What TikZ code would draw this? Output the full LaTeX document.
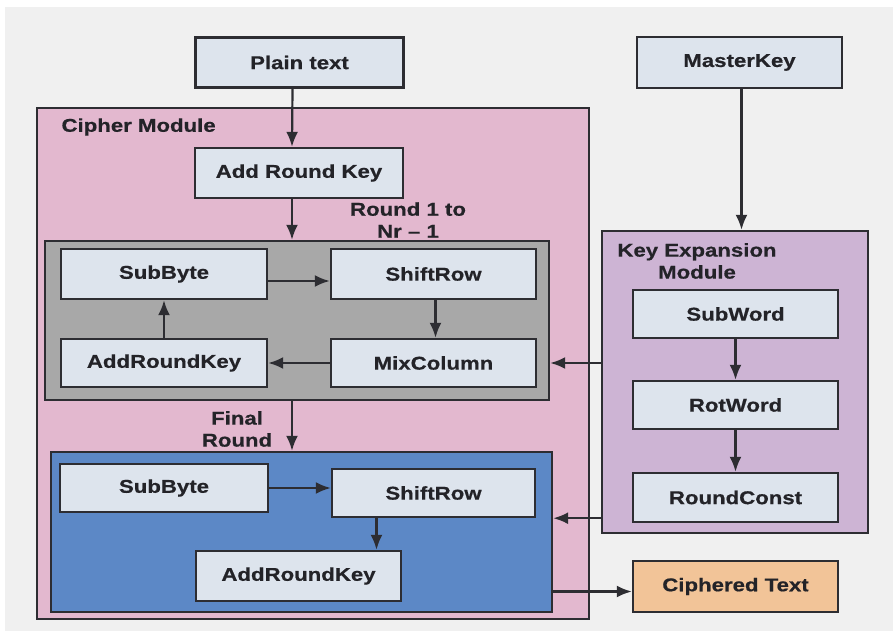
\documentclass[tikz,border=0pt]{standalone}
\usepackage{fontspec}
\setmainfont{Liberation Sans}[FakeStretch=1.2,FakeBold=0.6]
\usetikzlibrary{arrows.meta}
\definecolor{bggrey}{RGB}{240,240,240}
\definecolor{linegrey}{RGB}{45,45,50}
\definecolor{boxfill}{RGB}{221,228,237}
\definecolor{cipherpink}{RGB}{227,184,207}
\definecolor{roundgrey}{RGB}{168,168,168}
\definecolor{finalblue}{RGB}{92,136,198}
\definecolor{keypurple}{RGB}{205,180,212}
\definecolor{outorange}{RGB}{242,196,152}
\definecolor{txt}{RGB}{35,35,40}
\begin{document}
\begin{tikzpicture}[x=1pt,y=-1pt,>={Latex[length=15pt,width=12pt]},
  every node/.style={font=\fontsize{18.5}{22}\selectfont\bfseries,text=txt},
  blk/.style={draw=linegrey,line width=2.4pt,fill=boxfill,minimum width=205pt,minimum height=49pt,inner sep=0pt},
  area/.style={draw=linegrey,line width=2.4pt,inner sep=0pt},
  arr/.style={->,draw=linegrey,line width=2.2pt}]
% background
\fill[white](0,0)rectangle(893,631);
\fill[bggrey](5,7)rectangle(893,631);
% modules
\node[area,fill=cipherpink,minimum width=552pt,minimum height=511pt](cipher) at (313,363.5){};
\node[area,fill=roundgrey,minimum width=504pt,minimum height=159pt](roundbox) at (297,320.5){};
\node[area,fill=finalblue,minimum width=501pt,minimum height=160pt](finalbox) at (301.5,532){};
\node[area,fill=keypurple,minimum width=266pt,minimum height=302pt](keyexp) at (735,382){};
\node[anchor=west](ciphlbl) at (58,127){Cipher Module};
\node[align=center](keylbl) at (697,261){Key Expansion\\Module};
\node[align=center](roundlbl) at (408,220){Round 1 to\\Nr -- 1};
\node[align=center](finallbl) at (237,429){Final\\Round};
% blocks
\node[blk,minimum width=208pt,minimum height=50pt](plain) at (299.5,62.5){Plain text};
\node[blk,minimum height=51pt](master) at (739.5,62.5){MasterKey};
\node[blk,minimum width=208pt,minimum height=50pt](addkey) at (299,173){Add Round Key};
\node[blk,minimum width=206pt,minimum height=50pt](sb1) at (164,274){SubByte};
\node[blk,minimum height=50pt](sr1) at (433.5,274){ShiftRow};
\node[blk,minimum width=206pt,minimum height=48pt](ark1) at (164,363){AddRoundKey};
\node[blk,minimum height=48pt](mc1) at (433.5,363){MixColumn};
\node[blk,minimum width=208pt,minimum height=48pt](sb2) at (164,488){SubByte};
\node[blk,minimum width=203pt,minimum height=48pt](sr2) at (433.5,493){ShiftRow};
\node[blk,minimum height=50pt](ark2) at (298.5,576){AddRoundKey};
\node[blk,minimum height=48pt](subw) at (735.5,314){SubWord};
\node[blk,minimum height=48pt](rotw) at (735.5,405){RotWord};
\node[blk](rcon) at (735.5,497.5){RoundConst};
\node[blk,fill=outorange,minimum height=51pt](ciph) at (735.5,586.5){Ciphered Text};
% arrows
\draw[arr]([xshift=-7pt]plain.south)--([xshift=-7pt]addkey.north);
\draw[arr]([xshift=-7pt]addkey.south)--([xshift=-7pt]addkey.south|-roundbox.north);
\draw[arr]([xshift=-5pt]roundbox.south)--([xshift=-5pt]roundbox.south|-finalbox.north);
\draw[arr]([yshift=-7pt]sb1.east)--([yshift=-7pt]sr1.west);
\draw[arr]([xshift=2pt]sr1.south)--([xshift=2pt]mc1.north);
\draw[arr](mc1.west)--(ark1.east);
\draw[arr](ark1.north)--(sb1.south);
\draw[arr](sb2.east)--(sb2.east-|sr2.west);
\draw[arr]([xshift=-57pt]sr2.south)--([xshift=-57pt]sr2.south|-ark2.north);
\draw[arr]([xshift=2pt]master.south)--([xshift=2pt]master.south|-keyexp.north);
\draw[arr](subw)--(rotw);
\draw[arr](rotw)--(rcon);
\draw[arr](keyexp.west|-mc1)--(roundbox.east|-mc1);
\draw[arr](keyexp.west|-sr2.south)--(finalbox.east|-sr2.south);
\draw[arr]([yshift=-5pt]finalbox.east|-ciph)--([yshift=-5pt]ciph.west);
\end{tikzpicture}
\end{document}
